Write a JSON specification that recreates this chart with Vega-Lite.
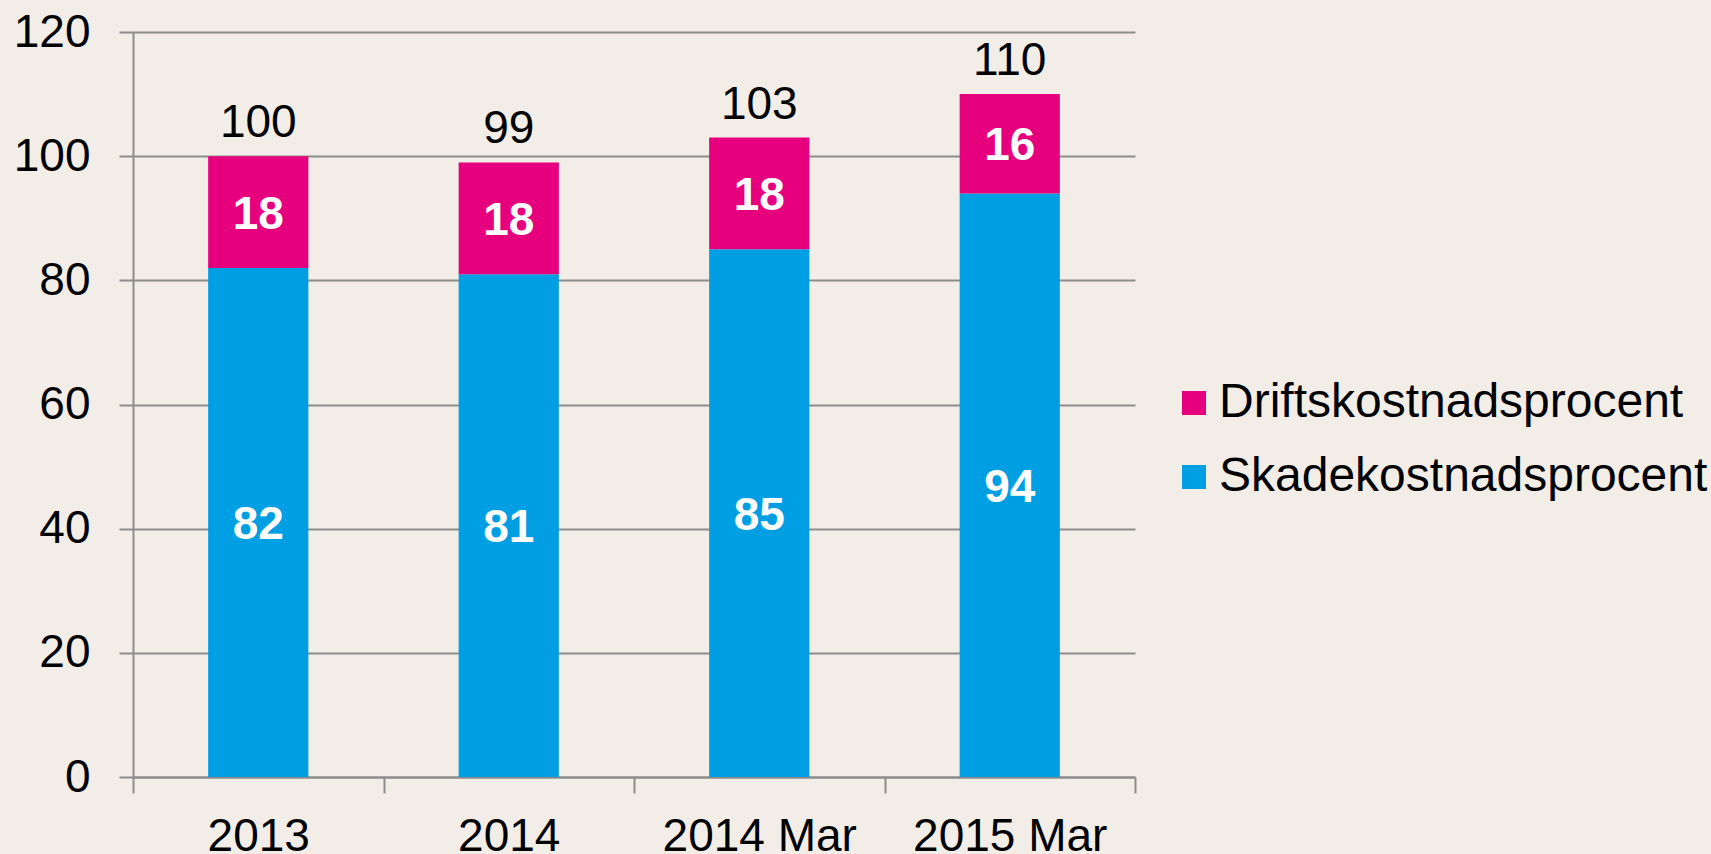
{
  "$schema": "https://vega.github.io/schema/vega-lite/v6.json",
  "autosize": "none",
  "width": 1002,
  "height": 745,
  "padding": {"left": 133, "top": 32, "right": 576, "bottom": 77},
  "background": "#F2EEE7",
  "config": {
    "view": {"stroke": null},
    "font": "Liberation Sans",
    "axis": {"labelFont": "Liberation Sans", "titleFont": "Liberation Sans"},
    "legend": {"labelFont": "Liberation Sans"}
  },
  "data": {
    "values": [
      {"period": "2013", "series": "Skadekostnadsprocent", "value": 82},
      {"period": "2013", "series": "Driftskostnadsprocent", "value": 18},
      {"period": "2014", "series": "Skadekostnadsprocent", "value": 81},
      {"period": "2014", "series": "Driftskostnadsprocent", "value": 18},
      {"period": "2014 Mar", "series": "Skadekostnadsprocent", "value": 85},
      {"period": "2014 Mar", "series": "Driftskostnadsprocent", "value": 18},
      {"period": "2015 Mar", "series": "Skadekostnadsprocent", "value": 94},
      {"period": "2015 Mar", "series": "Driftskostnadsprocent", "value": 16}
    ]
  },
  "transform": [
    {"stack": "value", "groupby": ["period"], "sort": [{"field": "series", "order": "descending"}], "as": ["y0", "y1"]},
    {"calculate": "(datum.y0 + datum.y1) / 2", "as": "ymid"},
    {"joinaggregate": [{"op": "sum", "field": "value", "as": "total"}], "groupby": ["period"]}
  ],
  "encoding": {
    "x": {
      "field": "period",
      "type": "nominal",
      "sort": ["2013", "2014", "2014 Mar", "2015 Mar"],
      "scale": {"paddingInner": 0, "paddingOuter": 0},
      "axis": {
        "title": null,
        "labelAngle": 0,
        "labelFontSize": 46,
        "labelColor": "#000000",
        "labelPadding": 21,
        "labelLimit": 1000,
        "tickBand": "extent",
        "tickSize": 16,
        "tickColor": "#8C8C8C",
        "tickWidth": 2,
        "domainColor": "#8C8C8C",
        "domainWidth": 2,
        "grid": false
      }
    }
  },
  "layer": [
    {
      "mark": {"type": "bar", "width": {"band": 0.4}},
      "encoding": {
        "y": {
          "field": "y1",
          "type": "quantitative",
          "scale": {"domain": [0, 120]},
          "axis": {
            "title": null,
            "values": [0, 20, 40, 60, 80, 100, 120],
            "labelFontSize": 46,
            "labelColor": "#000000",
            "labelPadding": 29,
            "tickSize": 14,
            "tickColor": "#8C8C8C",
            "tickWidth": 2,
            "domainColor": "#8C8C8C",
            "domainWidth": 2,
            "grid": true,
            "gridColor": "#8C8C8C",
            "gridWidth": 2
          }
        },
        "y2": {"field": "y0"},
        "color": {
          "field": "series",
          "type": "nominal",
          "scale": {
            "domain": ["Driftskostnadsprocent", "Skadekostnadsprocent"],
            "range": ["#E6007E", "#009FE3"]
          },
          "legend": {
            "title": null,
            "orient": "none",
            "legendX": 1037,
            "legendY": 347,
            "symbolType": "square",
            "symbolSize": 576,
            "symbolStrokeWidth": 0,
            "labelFontSize": 48,
            "labelColor": "#000000",
            "labelOffset": 1,
            "rowPadding": 26,
            "labelLimit": 600
          }
        }
      }
    },
    {
      "mark": {"type": "text", "color": "#FFFFFF", "fontWeight": "bold", "fontSize": 46, "baseline": "alphabetic", "dy": 16.5},
      "encoding": {
        "y": {"field": "ymid", "type": "quantitative"},
        "text": {"field": "value", "type": "quantitative"}
      }
    },
    {
      "transform": [{"filter": "datum.series === 'Driftskostnadsprocent'"}],
      "mark": {"type": "text", "color": "#000000", "fontSize": 46, "baseline": "alphabetic", "dy": -19},
      "encoding": {
        "y": {"field": "total", "type": "quantitative"},
        "text": {"field": "total", "type": "quantitative"}
      }
    }
  ]
}
